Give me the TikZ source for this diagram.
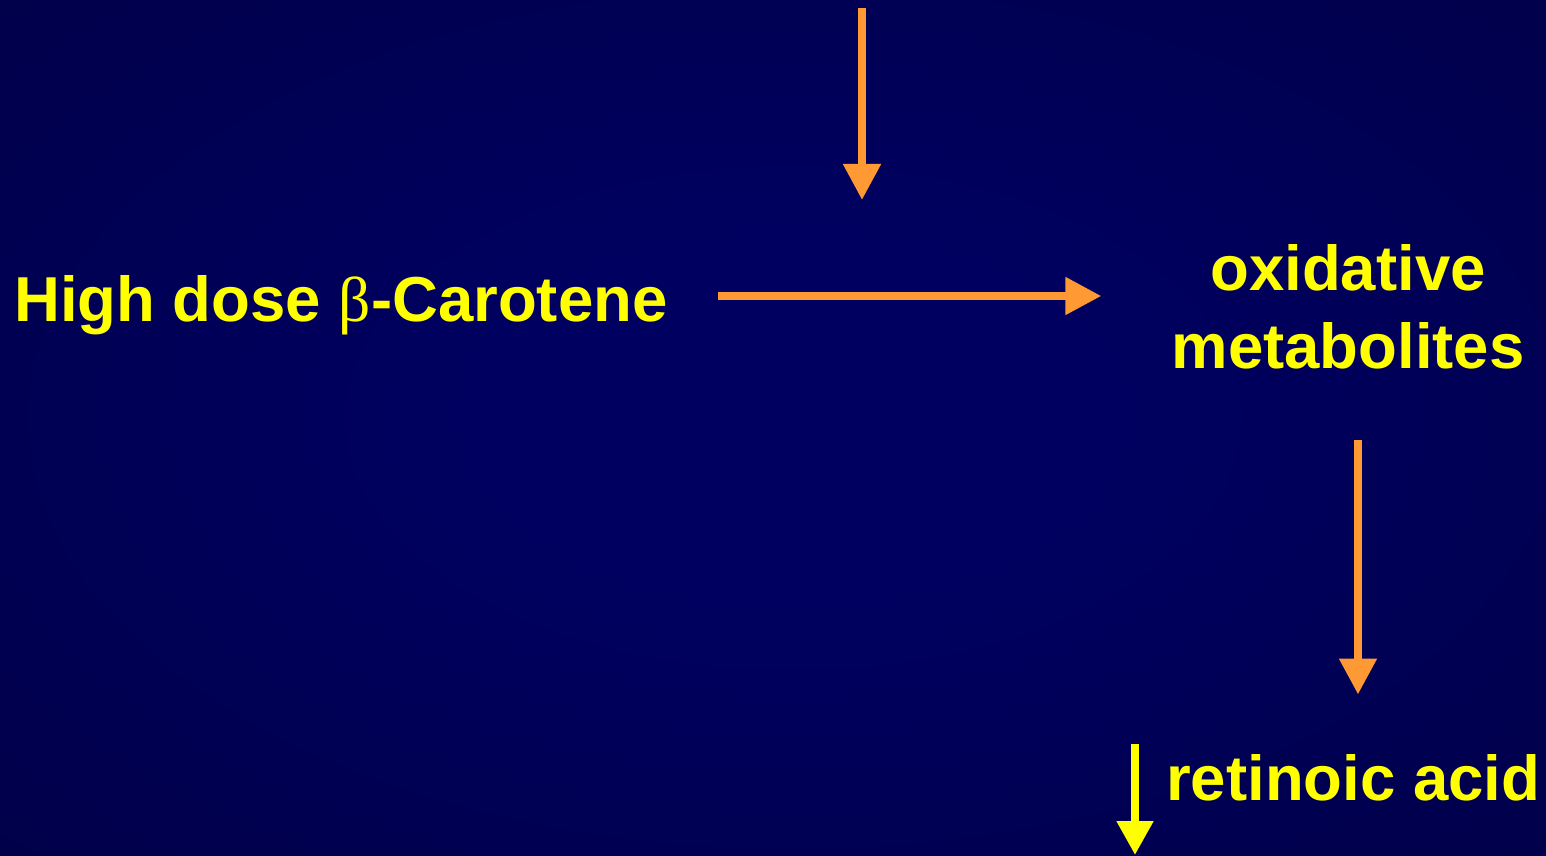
\documentclass[tikz,border=0pt]{standalone}
\usepackage{fontspec}
\setmainfont{Liberation Sans}
\newfontfamily\betafont{Liberation Serif}
\usetikzlibrary{arrows.meta}
\definecolor{bgin}{RGB}{0,0,96}
\definecolor{bgout}{RGB}{0,0,48}
\definecolor{arrorange}{RGB}{255,153,51}
\definecolor{txtyellow}{RGB}{255,255,0}
\pgfdeclareradialshading{bgshade}{\pgfpoint{0bp}{0bp}}{color(0bp)=(bgin); color(10bp)=(bgin); color(62bp)=(bgout); color(100bp)=(bgout)}
\tikzset{
  lbl/.style={inner sep=0pt, text=txtyellow, font=\fontsize{63.5}{78}\selectfont\bfseries},
  flow/.style={draw=arrorange, line width=8pt, -{Triangle[length=36pt,width=36pt]}},
  down/.style={draw=txtyellow, line width=8pt, -{Triangle[length=34pt,width=35pt]}}
}
\begin{document}
\begin{tikzpicture}[x=1pt,y=1pt]
\useasboundingbox (0,0) rectangle (1546,855);
\begin{scope}
\clip (0,0) rectangle (1546,855);
\fill[bgout] (0,0) rectangle (1546,855);
\shade[shading=bgshade] (-20,-20) rectangle (1606,895);
\end{scope}
\node[lbl, anchor=base west] (hd) at (14,533) {High dose {\betafont\mdseries β}-Carotene};
\node[lbl, align=center, anchor=center] (ox) at (1348,548) {oxidative\\metabolites};
\node[lbl, anchor=base west] (ra) at (1166,55) {retinoic acid};
\coordinate (topstart) at (862,847);
\coordinate (topend) at (862,655);
\coordinate (rastart) at (1135,111);
\coordinate (raend) at (1135,0);
\draw[flow] (topstart) -- (topend);
\draw[flow] ([xshift=50pt]hd.east |- 0,559) -- ([xshift=-70pt]ox.west |- 0,559);
\draw[flow] ([yshift=-70pt]ox.south -| 1358,0) -- ([yshift=-325pt]ox.south -| 1358,0);
\draw[down] (rastart) -- (raend);
\end{tikzpicture}
\end{document}
